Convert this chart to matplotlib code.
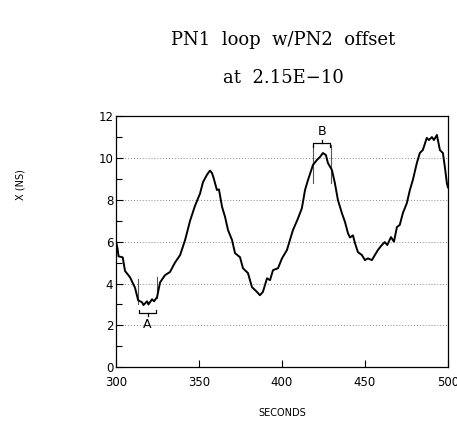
import numpy as np
import matplotlib.pyplot as plt

# trace (seconds, ns)
seconds = [300, 300.8, 301.5, 304, 305.4, 308.4, 311.4, 313.3, 315.7, 316.5,
           318.7, 319.5, 321.7, 322.9, 324.7, 326.5, 329.5, 332.5, 335.5, 338.6,
           341.6, 344.6, 347.5, 350.6, 352.4, 354.8, 356.6, 357.8, 358.6, 360.8,
           362, 363.9, 365.7, 367.5, 369.9, 371.7, 374.7, 376.5, 379.5, 381.9,
           384.9, 386.7, 388.5, 391, 392.8, 394.6, 397.6, 400, 403, 404.8,
           406.6, 409.6, 412, 413.9, 415.7, 418.7, 421, 422.9, 424.7, 426.5,
           427.7, 430.1, 431.9, 433.7, 436.1, 438, 439.8, 441, 442.8, 444,
           445.8, 448.2, 450, 451.8, 454.2, 456, 457.8, 460.2, 462, 463.5,
           465.7, 467.5, 469.3, 471, 472.9, 475.3, 477.1, 478.9, 481.3, 483.1,
           484.9, 487.3, 488.6, 490.4, 491.6, 493.4, 495.2, 497, 498.2, 499.4,
           500]
x_ns = [6.0, 5.7, 5.3, 5.25, 4.6, 4.3, 3.8, 3.2, 3.1, 2.97,
        3.15, 3.0, 3.25, 3.15, 3.35, 4.05, 4.4, 4.55, 5.0, 5.36,
        6.08, 7.0, 7.7, 8.3, 8.85, 9.2, 9.4, 9.28, 9.1, 8.47,
        8.5, 7.66, 7.18, 6.55, 6.08, 5.45, 5.26, 4.73, 4.5, 3.83,
        3.6, 3.44, 3.6, 4.25, 4.16, 4.64, 4.73, 5.2, 5.6, 6.08,
        6.55, 7.1, 7.6, 8.47, 8.95, 9.67, 9.9, 10.05, 10.24, 10.14,
        9.76, 9.43, 8.8, 8.0, 7.37, 6.94, 6.4, 6.2, 6.3, 5.93,
        5.5, 5.36, 5.12, 5.2, 5.12, 5.36, 5.6, 5.84, 5.98, 5.84,
        6.22, 6.0, 6.7, 6.8, 7.37, 7.85, 8.47, 8.95, 9.76, 10.24,
        10.38, 10.96, 10.86, 11.0, 10.86, 11.1, 10.38, 10.24, 9.57, 8.8,
        8.6]

xticks = [300, 350, 400, 450, 500]
yticks = [0, 2, 4, 6, 8, 10, 12]
grid_levels = [2, 4, 6, 8, 10]

fig = plt.figure(figsize=(4.57, 4.24), dpi=100)
ax = fig.add_axes([0.254, 0.134, 0.726, 0.592])

for g in grid_levels:
    ax.axhline(g, color='#888888', lw=0.7, ls=(0, (1, 2)), zorder=1)

ax.plot(seconds, x_ns, color='black', lw=1.4, zorder=3)

ax.set_xlim(300, 500)
ax.set_ylim(0, 12)
ax.set_xticks(xticks)
ax.set_yticks(yticks)
ax.set_yticks(np.arange(1, 12, 2), minor=True)
ax.tick_params(direction='in', length=5, labelsize=8.5, width=0.8)
ax.tick_params(which='minor', direction='in', length=4, width=0.8)
ax.tick_params(axis='x', pad=6)
ax.tick_params(axis='y', pad=2)
for s in ax.spines.values():
    s.set_linewidth(0.9)

# bracket A
ax.plot([313.3, 313.3], [3.0, 4.2], color='#555555', lw=0.8)
ax.plot([324.7, 324.7], [3.3, 4.3], color='#555555', lw=0.8)
ax.plot([313.8, 313.8, 324.2, 324.2], [2.75, 2.6, 2.6, 2.75], color='black', lw=0.9)
ax.plot([319, 319], [2.6, 2.45], color='black', lw=0.9)
ax.text(319, 2.05, 'A', ha='center', va='center', fontsize=9)

# bracket B
ax.plot([418.7, 418.7], [8.8, 10.6], color='#555555', lw=0.8)
ax.plot([429.5, 429.5], [8.8, 10.6], color='#555555', lw=0.8)
ax.plot([419, 419, 429.2, 429.2], [10.55, 10.7, 10.7, 10.55], color='black', lw=0.9)
ax.plot([424, 424], [10.7, 10.85], color='black', lw=0.9)
ax.text(424, 11.25, 'B', ha='center', va='center', fontsize=9)

ax.set_xlabel('SECONDS', fontsize=7, labelpad=14)
fig.text(0.045, 0.565, 'X (NS)', rotation=90, ha='center', va='center', fontsize=7)

fig.text(0.62, 0.905, 'PN1  loop  w/PN2  offset', ha='center', va='center',
         fontsize=13, family='DejaVu Serif')
fig.text(0.62, 0.815, 'at  2.15E\u221210', ha='center', va='center',
         fontsize=13, family='DejaVu Serif')

fig.savefig('out.png', dpi=100)
